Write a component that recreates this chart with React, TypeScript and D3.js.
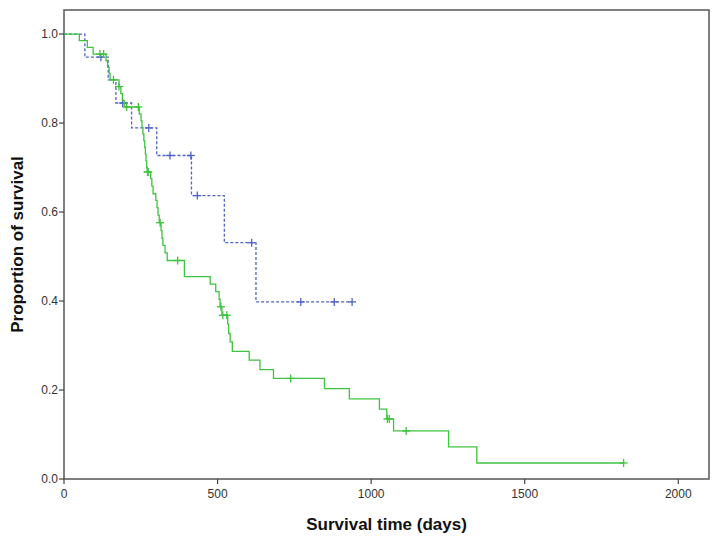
import React from 'react';
import * as d3 from 'd3';

// survival curves: [time in days, proportion after the drop]
const greenSteps: [number, number][] = [
  [50, 0.985], [76, 0.970], [95, 0.955], [137, 0.940], [142, 0.925], [147, 0.911], [150, 0.897],
  [179, 0.882], [185, 0.866], [190, 0.851], [196, 0.836],
  [245, 0.820], [251, 0.805], [254, 0.790], [257, 0.775], [260, 0.760], [263, 0.745],
  [265, 0.730], [267, 0.715], [269, 0.700], [271, 0.690],
  [282, 0.675], [286, 0.658], [290, 0.641], [299, 0.626], [303, 0.610], [306, 0.593], [310, 0.576],
  [316, 0.558], [319, 0.541], [322, 0.525], [329, 0.508], [336, 0.491], [392, 0.455],
  [476, 0.438], [494, 0.421], [505, 0.404], [508, 0.387], [514, 0.368],
  [533, 0.348], [536, 0.327], [541, 0.308], [548, 0.287], [603, 0.267], [638, 0.246], [682, 0.226],
  [848, 0.203], [929, 0.180], [1027, 0.157], [1051, 0.135], [1073, 0.108], [1252, 0.072], [1344, 0.036],
];
const greenCensored = [117, 129, 161, 179, 204, 242, 272, 274, 313, 370, 511, 517, 530, 738, 1053, 1059, 1114, 1822];

const blueSteps: [number, number][] = [
  [68, 0.948], [144, 0.897], [169, 0.845], [220, 0.789], [302, 0.727], [415, 0.637], [522, 0.531], [625, 0.398],
];
const blueCensored = [120, 191, 276, 345, 413, 434, 611, 771, 880, 938];

const xTicks = [0, 500, 1000, 1500, 2000];
const yTicks = [0, 0.2, 0.4, 0.6, 0.8, 1.0];

const W = 721;
const H = 546;
const m = { left: 64, right: 12, top: 10, bottom: 67 };

// value at time t on a step curve
const survAt = (steps: [number, number][], t: number) => {
  let v = 1;
  for (const [st, sv] of steps) if (st <= t) v = sv;
  return v;
};

export default function App() {
  const x = d3.scaleLinear().domain([0, 2100]).range([m.left, W - m.right]);
  const y = d3.scaleLinear().domain([0, 1.054]).range([H - m.bottom, m.top]);

  const line = d3.line<[number, number]>()
    .x(d => x(d[0]))
    .y(d => y(d[1]))
    .curve(d3.curveStepAfter);

  const curve = (steps: [number, number][], censored: number[]) => {
    const end = Math.max(d3.max(censored) || 0, d3.max(steps, d => d[0]) || 0);
    const pts: [number, number][] = [[0, 1], ...steps, [end, survAt(steps, end)]];
    return line(pts) || '';
  };

  const font = '"Liberation Sans", Arial, sans-serif';
  const green = '#3ec43e';
  const blue = '#4f63c9';

  const marks = (steps: [number, number][], censored: number[], color: string) =>
    censored.map((t, i) => {
      const cx = x(t);
      const cy = y(survAt(steps, t));
      return (
        <g key={i} stroke={color} strokeWidth={1.3}>
          <line x1={cx - 4} x2={cx + 4} y1={cy} y2={cy} />
          <line x1={cx} x2={cx} y1={cy - 4} y2={cy + 4} />
        </g>
      );
    });

  const [x0, x1] = x.range();
  const [y0, y1] = y.range();

  return (
    <svg width={W} height={H} style={{ position: 'absolute', left: 0, top: 0, background: '#fff' }}>
      <rect x={x0} y={y1} width={x1 - x0} height={y0 - y1} fill="none" stroke="#555" strokeWidth={1.5} />

      {yTicks.map(t => (
        <g key={t}>
          <line x1={x0 - 5} x2={x0} y1={y(t)} y2={y(t)} stroke="#444" strokeWidth={1.2} />
          <text x={x0 - 6} y={y(t)} dy="0.35em" textAnchor="end" fontFamily={font} fontSize={12} fill="#333">
            {t.toFixed(1)}
          </text>
        </g>
      ))}
      {xTicks.map(t => (
        <g key={t}>
          <line x1={x(t)} x2={x(t)} y1={y0} y2={y0 + 5} stroke="#444" strokeWidth={1.2} />
          <text x={x(t)} y={y0 + 19} textAnchor="middle" fontFamily={font} fontSize={12} fill="#333">
            {t}
          </text>
        </g>
      ))}

      <path d={curve(blueSteps, blueCensored)} fill="none" stroke={blue} strokeWidth={1.3} strokeDasharray="3,2" />
      {marks(blueSteps, blueCensored, blue)}
      <path d={curve(greenSteps, greenCensored)} fill="none" stroke={green} strokeWidth={1.3} />
      {marks(greenSteps, greenCensored, green)}

      <text x={(x0 + x1) / 2} y={530} textAnchor="middle" fontFamily={font} fontSize={17} fontWeight="bold" fill="#111">
        Survival time (days)
      </text>
      <text
        transform={`translate(23, ${(y0 + y1) / 2}) rotate(-90)`}
        textAnchor="middle"
        fontFamily={font}
        fontSize={17}
        fontWeight="bold"
        fill="#111"
      >
        Proportion of survival
      </text>
    </svg>
  );
}
